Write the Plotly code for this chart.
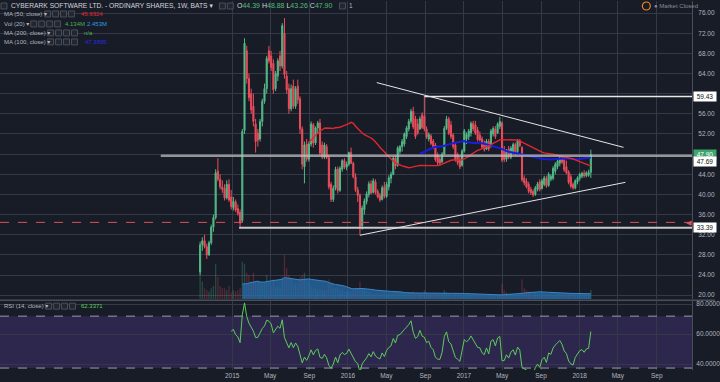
import plotly.graph_objects as go
import pandas as pd
import numpy as np

# ---------------- weekly OHLC ----------------
opens = [24.6, 30.0, 30.8, 29.6, 28.0, 30.4, 33.5, 35.4, 44.6, 43.0,
         41.5, 41.2, 39.3, 42.0, 39.5, 37.4, 38.5, 37.2, 36.4, 34.8,
         52.7, 68.5, 63.0, 60.0, 57.5, 54.0, 52.2, 51.0, 54.5, 58.5,
         61.0, 68.5, 67.5, 66.0, 61.0, 63.5, 67.5, 65.5, 72.0, 63.5,
         61.0, 57.0, 61.5, 57.5, 61.5, 59.0, 53.0, 45.5, 50.0, 47.0,
         50.0, 53.8, 50.2, 53.2, 54.2, 49.8, 47.4, 49.5, 47.3, 42.0,
         39.0, 41.2, 45.0, 40.8, 45.0, 46.7, 45.4, 46.0, 48.3, 46.2,
         43.5, 40.9, 39.8, 33.8, 37.0, 38.6, 40.0, 42.1, 40.4, 42.5,
         40.6, 39.8, 39.0, 41.5, 39.6, 41.5, 43.2, 44.0, 47.2, 45.8,
         48.5, 49.5, 50.0, 51.5, 53.0, 54.5, 56.5, 55.0, 54.0, 53.0,
         55.8, 55.5, 53.0, 51.0, 51.6, 50.6, 49.8, 47.8, 47.0, 46.5,
         48.0, 53.1, 55.0, 53.8, 51.8, 49.8, 47.8, 46.8, 45.8, 48.6,
         51.0, 51.5, 52.2, 54.1, 53.8, 52.8, 51.8, 51.0, 50.2, 49.0,
         50.5, 49.5, 52.0, 53.0, 52.2, 53.5, 54.2, 49.0, 47.0, 49.0,
         47.4, 48.5, 49.9, 48.5, 50.6, 49.3, 43.2, 42.6, 42.0, 41.0,
         40.6, 40.0, 41.0, 42.5, 41.2, 42.0, 43.2, 41.8, 43.0, 43.2,
         44.6, 45.5, 46.2, 47.2, 46.8, 45.5, 44.5, 43.5, 42.0, 41.3,
         42.5, 43.2, 43.6, 44.2, 43.7, 43.8, 44.39]
highs = [30.6, 31.5, 32.0, 30.2, 30.8, 34.0, 36.0, 45.0, 47.2, 44.0,
         42.8, 42.0, 42.8, 43.0, 40.9, 39.5, 39.0, 38.0, 37.0, 53.0,
         71.0, 69.5, 64.0, 61.0, 60.0, 55.0, 53.0, 55.0, 59.0, 62.0,
         67.5, 69.5, 68.5, 66.8, 64.5, 67.0, 68.5, 74.0, 75.0, 64.5,
         62.0, 61.8, 62.8, 61.5, 62.8, 59.5, 53.5, 50.5, 51.0, 50.5,
         54.5, 54.2, 53.5, 54.6, 55.0, 50.5, 50.3, 50.0, 47.8, 42.5,
         41.8, 45.5, 45.5, 45.6, 47.0, 47.2, 46.5, 48.5, 49.3, 46.5,
         44.2, 41.5, 40.2, 37.8, 39.2, 40.6, 42.6, 42.8, 43.2, 43.0,
         41.0, 40.3, 41.8, 42.5, 42.5, 43.8, 44.5, 47.6, 47.6, 49.6,
         49.8, 51.0, 52.3, 53.6, 55.0, 57.0, 57.4, 55.6, 55.0, 55.5,
         56.3, 59.43, 53.5, 52.3, 52.0, 51.0, 50.2, 48.3, 47.6, 48.4,
         53.6, 55.6, 55.4, 54.6, 52.2, 50.3, 48.3, 47.5, 49.0, 53.0,
         52.3, 53.0, 54.5, 54.6, 54.6, 53.4, 52.5, 51.5, 50.7, 51.0,
         51.0, 53.0, 53.5, 53.6, 54.3, 55.4, 54.5, 49.6, 49.0, 49.6,
         49.6, 50.3, 50.3, 51.0, 51.0, 49.6, 43.8, 43.2, 42.5, 41.5,
         41.0, 41.7, 42.5, 43.0, 43.1, 43.7, 43.7, 44.4, 44.0, 45.6,
         46.4, 47.0, 47.6, 47.7, 47.3, 46.7, 44.8, 44.1, 42.4, 43.0,
         43.6, 44.3, 44.5, 44.8, 44.6, 44.9, 48.88]
lows = [24.0, 28.8, 29.3, 27.2, 27.8, 30.0, 32.6, 35.0, 42.6, 41.0,
        40.3, 38.8, 39.0, 38.5, 37.0, 36.8, 36.5, 35.8, 33.6, 34.5,
        52.0, 62.0, 58.5, 56.0, 53.5, 48.3, 49.5, 50.5, 53.5, 58.0,
        60.0, 66.0, 64.5, 60.0, 60.5, 62.5, 64.5, 65.0, 63.0, 60.0,
        56.0, 56.5, 57.0, 57.0, 58.0, 52.0, 45.0, 42.2, 46.5, 46.5,
        49.5, 49.3, 49.8, 52.0, 47.8, 47.0, 47.0, 47.0, 41.0, 38.5,
        38.5, 40.8, 40.2, 40.5, 44.5, 45.0, 44.8, 45.6, 46.0, 43.2,
        40.5, 38.5, 31.9, 33.0, 36.0, 38.0, 39.4, 40.0, 40.2, 40.0,
        39.2, 38.5, 38.8, 39.2, 39.3, 40.8, 42.2, 43.8, 45.0, 45.5,
        48.0, 48.5, 49.5, 51.0, 52.5, 54.0, 53.0, 51.0, 51.8, 52.8,
        53.0, 52.5, 51.0, 50.5, 49.8, 49.0, 46.5, 45.8, 45.8, 46.2,
        47.8, 52.8, 51.8, 51.0, 49.0, 46.5, 45.8, 45.0, 45.5, 48.3,
        50.0, 50.8, 51.5, 52.5, 51.8, 50.5, 50.5, 49.0, 48.5, 48.8,
        48.6, 49.3, 51.5, 51.0, 52.0, 53.0, 46.4, 46.4, 46.5, 47.0,
        47.0, 48.0, 47.8, 48.2, 49.4, 42.5, 41.8, 41.2, 40.2, 39.9,
        39.5, 39.7, 40.6, 40.6, 41.0, 41.6, 41.3, 41.5, 42.6, 42.8,
        44.0, 45.0, 45.6, 46.0, 44.5, 44.0, 42.0, 41.2, 40.9, 41.0,
        42.0, 42.7, 43.2, 43.3, 43.4, 43.5, 43.26]
closes = [30.0, 30.8, 29.6, 28.0, 30.4, 33.5, 35.4, 44.3, 43.0, 41.5,
          41.0, 39.3, 42.0, 38.9, 37.6, 38.6, 36.9, 36.2, 34.3, 52.5,
          70.0, 63.0, 59.2, 56.8, 54.5, 50.5, 50.8, 54.5, 58.5, 61.0,
          67.0, 66.5, 65.2, 60.8, 64.0, 66.5, 65.5, 73.5, 63.8, 60.8,
          57.0, 61.0, 57.5, 61.0, 58.8, 53.0, 46.0, 49.8, 47.0, 50.0,
          54.0, 50.2, 53.2, 54.2, 48.2, 47.4, 49.8, 47.3, 41.5, 39.0,
          41.2, 45.0, 40.8, 45.2, 46.7, 45.4, 46.0, 48.3, 46.2, 43.5,
          40.9, 39.8, 33.6, 37.3, 38.7, 40.1, 42.1, 40.3, 42.7, 40.4,
          39.5, 38.9, 41.3, 39.6, 42.0, 43.3, 44.0, 47.2, 45.6, 49.2,
          49.5, 50.5, 52.0, 53.2, 54.5, 56.5, 53.4, 51.5, 52.2, 55.0,
          53.3, 53.0, 51.4, 51.9, 50.1, 49.4, 46.9, 46.3, 46.2, 48.0,
          53.1, 55.0, 52.2, 51.5, 49.5, 46.9, 46.3, 45.5, 48.6, 52.6,
          51.9, 52.6, 54.1, 53.0, 52.2, 50.9, 50.8, 49.4, 48.9, 50.6,
          49.0, 52.6, 53.1, 51.5, 54.0, 54.5, 46.8, 46.9, 48.6, 47.4,
          49.2, 49.9, 48.2, 50.6, 49.7, 42.9, 42.3, 41.5, 40.6, 40.3,
          39.9, 41.3, 42.1, 41.0, 42.7, 43.3, 41.7, 44.0, 43.6, 45.2,
          46.0, 46.6, 47.2, 46.4, 44.9, 44.3, 42.4, 41.6, 41.3, 42.7,
          43.3, 44.0, 44.2, 43.7, 44.3, 44.4, 47.90]
volumes_m = [17, 8, 5, 4, 3.5, 5, 6, 16, 10, 6,
             5, 5, 4, 6, 3, 4, 3.5, 4, 5, 17,
             16, 12, 11, 8, 12, 8, 8, 8, 7, 8,
             11, 8, 6, 9, 5, 6, 5, 10, 20, 14,
             11, 9, 7, 7, 6, 10, 11, 12, 9, 8,
             6, 5, 5, 4, 5, 4, 4, 4, 9, 7,
             5, 5, 5, 4, 4, 3.5, 3.5, 3.5, 3.5, 4,
             5, 5, 8, 5, 4, 3.5, 3, 3, 2.5, 2.5,
             2.5, 2.5, 2.5, 3, 2.5, 2.5, 2.5, 3.5, 3, 3,
             3, 3, 3, 2.5, 3, 3, 3.5, 3, 2.5, 2.5,
             2.5, 4, 3, 2.5, 2.5, 2.5, 3, 2.5, 2.5, 2.5,
             4, 3, 2.5, 2, 2, 2.5, 2, 2, 2, 2,
             1.8, 1.8, 1.8, 1.6, 1.6, 1.6, 1.5, 1.5, 1.5, 1.5,
             1.6, 1.8, 1.6, 1.5, 1.5, 1.8, 7, 4, 3, 2.5,
             2.5, 2.2, 2, 2, 2.5, 9, 5, 4, 3.5, 3,
             3, 3, 2.8, 2.5, 2.5, 2.5, 2.3, 2.5, 2.2, 2.2,
             2.5, 2.5, 2.5, 2.0, 2.8, 2.8, 2.8, 2.8, 2.8, 2.0,
             2.0, 2.4, 2.2, 2.2, 2.0, 2.2, 4.134]
last_week = "2018-02-05"

# drawings on the chart
hline_levels = [59.43, 47.69, 33.39]
hline_starts = ["2016-08-29", "2014-05-21", "2015-01-23"]
alert_level = 34.45
trend_upper_x = ["2016-04-01", "2018-05-19"]
trend_upper_y = [62.2, 49.35]
trend_lower_x = ["2016-02-08", "2018-05-25"]
trend_lower_y = [31.9, 42.4]
rsi_bands = [72.0, 37.3]

price_ticks = list(range(20, 77, 4))
price_tick_text = ["" if t in (48, 60) else f"{t:.2f}" for t in price_ticks]
rsi_ticks = [40, 60, 80]
x_tick_dates = ["2015-01-01", "2015-05-01", "2015-09-01", "2016-01-01", "2016-05-01", "2016-09-01",
                "2017-01-01", "2017-05-01", "2017-09-01", "2018-01-01", "2018-05-01", "2018-09-01"]
x_tick_text = ["2015", "May", "Sep", "2016", "May", "Sep", "2017", "May", "Sep", "2018", "May", "Sep"]

# ---------------- derived indicators ----------------
n = len(closes)
dates = pd.date_range(end=last_week, periods=n, freq="7D")
cs = pd.Series(closes, index=dates)
ma50 = cs.rolling(50).mean()
ma100 = cs.rolling(100).mean()
vs = pd.Series(volumes_m, index=dates)
vol_ma = vs.rolling(20).mean()
delta = cs.diff()
gain = delta.clip(lower=0).fillna(0).values
loss = (-delta).clip(lower=0).fillna(0).values
rsi = [None] * n
ag = gain[1:15].mean()
al = loss[1:15].mean()
rsi[14] = 100 - 100 / (1 + ag / al)
for i in range(15, n):
    ag = (ag * 13 + gain[i]) / 14
    al = (al * 13 + loss[i]) / 14
    rsi[i] = 100 - 100 / (1 + ag / al)

# ---------------- figure ----------------
BG = "#181c27"
GRID = "#353947"
TXT = "#b2b5be"
UP = "#53b987"
DN = "#eb4d5c"
PW, PH = 697.0, 370.0
FONT = "Liberation Sans, Arial, DejaVu Sans, sans-serif"


def X(p):
    return p / PW


def Y(p):
    return 1 - p / PH


fig = go.Figure()
vol_colors = ["rgba(83,185,135,0.28)" if c >= o else "rgba(235,77,92,0.28)" for o, c in zip(opens, closes)]
fig.add_trace(go.Bar(x=dates, y=volumes_m, marker_color=vol_colors, marker_line_width=0,
                     width=7 * 86400000 * 0.6, xaxis="x", yaxis="y", hoverinfo="skip"))
fig.add_trace(go.Scatter(x=dates, y=vol_ma, mode="lines", line=dict(color="#3a86c8", width=1),
                         fill="tozeroy", fillcolor="rgba(38,110,172,0.75)", xaxis="x", yaxis="y"))
fig.add_trace(go.Candlestick(x=dates, open=opens, high=highs, low=lows, close=closes,
                             increasing=dict(line=dict(color=UP, width=1), fillcolor=UP),
                             decreasing=dict(line=dict(color=DN, width=1), fillcolor=DN),
                             whiskerwidth=0, xaxis="x", yaxis="y3"))
fig.add_trace(go.Scatter(x=dates, y=ma100, mode="lines", line=dict(color="#1c1ce0", width=2),
                         xaxis="x", yaxis="y3"))
fig.add_trace(go.Scatter(x=dates, y=ma50, mode="lines", line=dict(color="#e3262f", width=1.4),
                         xaxis="x", yaxis="y3"))
fig.add_trace(go.Scatter(x=dates, y=rsi, mode="lines", line=dict(color="#5ccc5c", width=1),
                         xaxis="x", yaxis="y2"))

shapes = []
# RSI band
shapes.append(dict(type="rect", xref="paper", yref="y2", x0=0, x1=1, y0=rsi_bands[1], y1=rsi_bands[0],
                   fillcolor="rgba(110,70,190,0.25)", line=dict(width=0), layer="below"))
for b in rsi_bands:
    shapes.append(dict(type="line", xref="paper", yref="y2", x0=0, x1=1, y0=b, y1=b,
                       line=dict(color="#9a9cab", width=1, dash="dash")))
# horizontal drawing lines
hl_colors = ["#e8e8e8", "rgba(190,190,190,0.75)", "#c9c9c9"]
hl_widths = [1.5, 2.5, 2]
for lv, st, c, w in zip(hline_levels, hline_starts, hl_colors, hl_widths):
    shapes.append(dict(type="line", xref="x", yref="y3", x0=st, x1="2018-12-21", y0=lv, y1=lv,
                       line=dict(color=c, width=w)))
shapes.append(dict(type="line", xref="paper", yref="y3", x0=0, x1=1, y0=alert_level, y1=alert_level,
                   line=dict(color="#d8505e", width=1, dash="dash")))
shapes.append(dict(type="line", xref="x", yref="y3", x0=trend_upper_x[0], x1=trend_upper_x[1],
                   y0=trend_upper_y[0], y1=trend_upper_y[1], line=dict(color="#e6e6e6", width=1)))
shapes.append(dict(type="line", xref="x", yref="y3", x0=trend_lower_x[0], x1=trend_lower_x[1],
                   y0=trend_lower_y[0], y1=trend_lower_y[1], line=dict(color="#e6e6e6", width=1)))
# pane separator
shapes.append(dict(type="line", xref="paper", yref="paper", x0=0, x1=720 / PW, y0=Y(300), y1=Y(300),
                   line=dict(color="#4a4e5a", width=1.5)))


def icons(x0, yc, k=4):
    for j in range(k):
        xs = x0 + j * 8
        shapes.append(dict(type="rect", xref="paper", yref="paper", x0=X(xs), x1=X(xs + 6),
                           y0=Y(yc + 3), y1=Y(yc - 3), line=dict(color="#4b4f5c", width=1),
                           fillcolor="#22262f"))


icons(1, 5, 1)
icons(221, 5, 2)
icons(45, 13)
icons(31, 23)
icons(48, 32)
icons(48, 41)
icons(46, 306)
icons(342, 5, 1)
# market closed clock
shapes.append(dict(type="circle", xref="paper", yref="paper", x0=X(647), x1=X(655), y0=Y(9), y1=Y(1),
                   line=dict(color="#f0861c", width=1.2)))

ann = []


def txt(x, y, s, size=6.5, color=TXT):
    ann.append(dict(x=X(x), y=Y(y), xref="paper", yref="paper", text=s, showarrow=False,
                    xanchor="left", yanchor="middle", font=dict(size=size, color=color, family=FONT)))


g = "#4fbf7a"
txt(9, 5, "CYBERARK SOFTWARE LTD. - ORDINARY SHARES, 1W, BATS \u25be", 6.7, "#d1d4dc")
txt(237, 5, f"O<span style='color:{g}'>44.39</span> H<span style='color:{g}'>48.88</span> "
    f"L<span style='color:{g}'>43.26</span> C<span style='color:{g}'>47.90</span>", 7.0, "#d1d4dc")
txt(350, 5, "1", 6.5, TXT)
txt(2, 13, "MA (50, close) \u25be", 6)
txt(80, 13, "45.9324", 6, "#e3262f")
txt(2, 23, "Vol (20) \u25be", 6)
txt(63, 23, "4.134M", 6, "#4caf50")
txt(86, 23, "2.453M", 6, "#2f9be0")
txt(2, 32, "MA (200, close) \u25be", 6)
txt(83, 32, "n/a", 6, "#4caf50")
txt(2, 41, "MA (100, close) \u25be", 6)
txt(84, 41, "47.3895", 6, "#2828e6")
txt(2, 306, "RSI (14, close) \u25be", 6)
txt(80, 306, "62.3371", 6, "#5ccc5c")
txt(657, 5, "\u25cf Market Closed", 6, "#8a8d96")

# price-axis labels
for val, shown, bg, fc in [(59.43, "59.43", "#ffffff", "#111111"),
                           (47.90, "47.90", "#3fa56d", "#ffffff"),
                           (46.45, "47.69", "#ffffff", "#111111"),
                           (33.39, "33.39", "#ffffff", "#111111")]:
    ann.append(dict(x=1, y=val, xref="paper", yref="y3", text=shown, showarrow=False, xanchor="left",
                    yanchor="middle", xshift=1, bgcolor=bg, borderpad=1, width=20,
                    font=dict(size=6.5, color=fc, family=FONT)))
ann.append(dict(x=X(694), y=alert_level, xref="paper", yref="y3", text="\u25c0", showarrow=False,
                xanchor="center", yanchor="middle", font=dict(size=7, color="#e0505e", family=FONT)))

fig.update_layout(
    width=720, height=382, margin=dict(l=0, r=23, t=0, b=12, pad=0),
    paper_bgcolor=BG, plot_bgcolor=BG, showlegend=False,
    font=dict(family=FONT, size=6.5, color=TXT),
    shapes=shapes, annotations=ann,
    xaxis=dict(type="date", range=["2012-12-30", "2018-12-21"], domain=[0, 1], anchor="y2",
               tickvals=x_tick_dates, ticktext=x_tick_text, showgrid=True, gridcolor=GRID,
               gridwidth=1, zeroline=False, rangeslider=dict(visible=False), ticks="",
               tickfont=dict(size=6.5, color=TXT), showline=False),
    yaxis=dict(domain=[1 - 299 / PH, 1], range=[0, 135], visible=False, showgrid=False,
               fixedrange=True),
    yaxis3=dict(overlaying="y", side="right", anchor="x", range=[19.2, 78.4], tickvals=price_ticks,
                ticktext=price_tick_text, showgrid=True, gridcolor=GRID, zeroline=False, ticks="",
                tickfont=dict(size=6.5, color=TXT), showline=True, linecolor="#4a4e5a",
                ticklabelstandoff=4),
    yaxis2=dict(domain=[0, 69 / PH], range=[36, 82], side="right", anchor="x", tickvals=rsi_ticks,
                tickformat=".4f", showgrid=True, gridcolor=GRID, zeroline=False, ticks="",
                tickfont=dict(size=6.5, color=TXT), showline=True, linecolor="#4a4e5a",
                ticklabelstandoff=2),
)
fig.write_html("out.html", config={"displayModeBar": False},
               post_script="document.body.style.margin='0';document.body.style.overflow='hidden';")
